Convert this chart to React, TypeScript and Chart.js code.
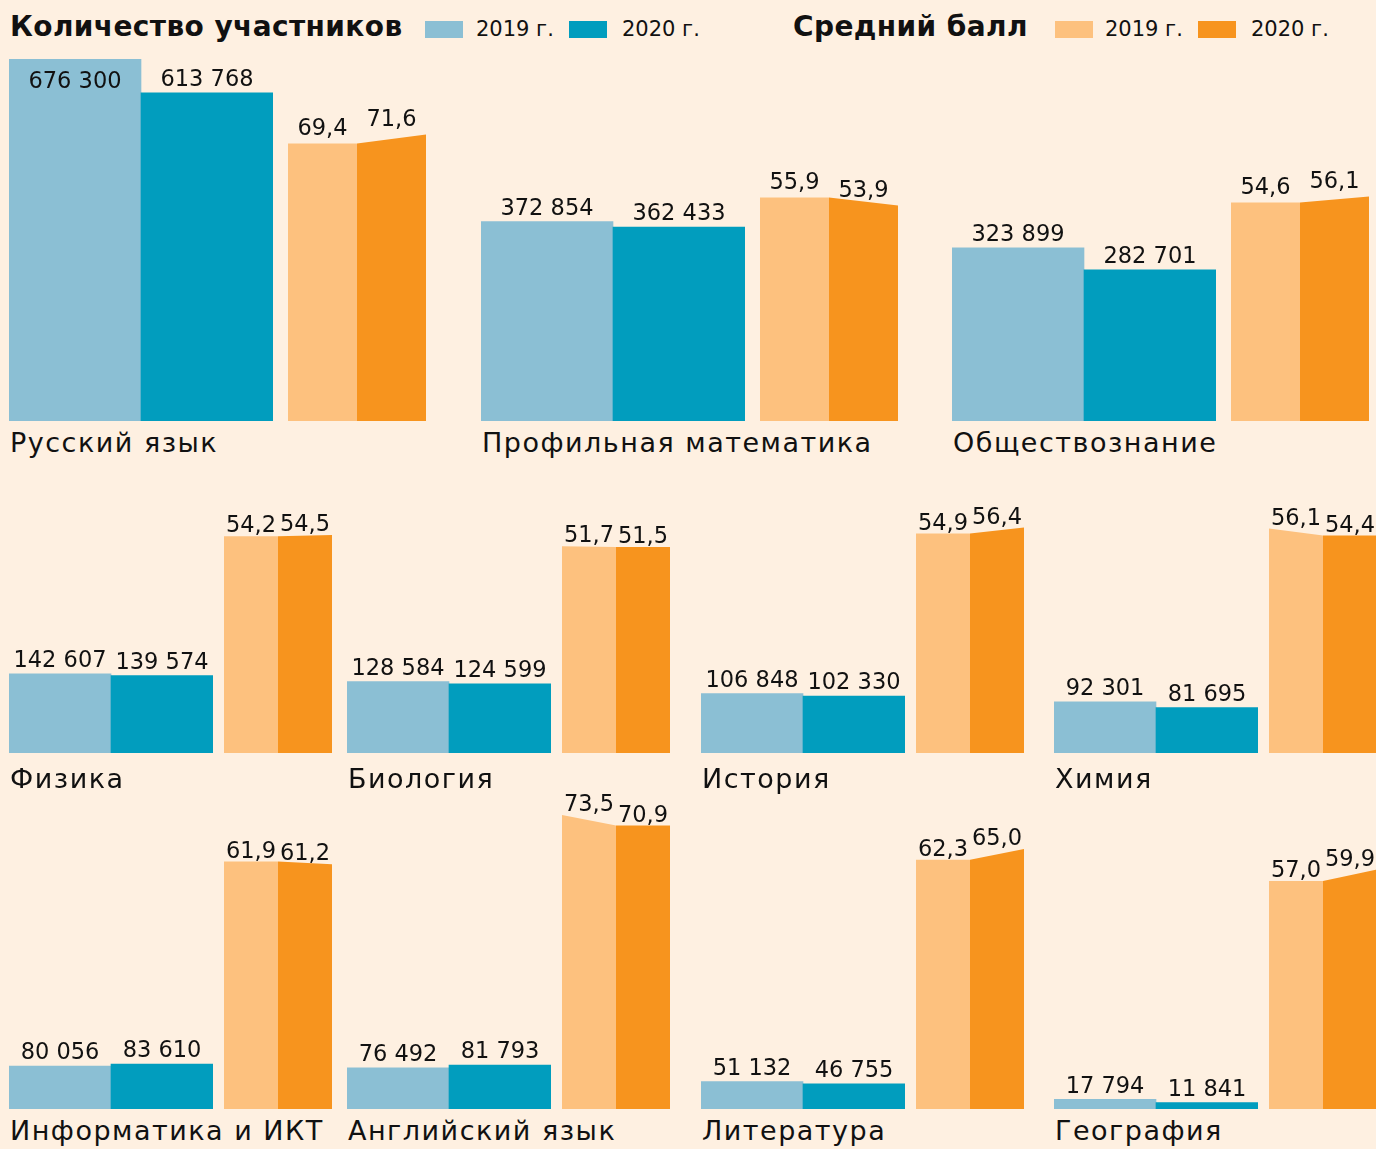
import React, { useEffect, useRef } from "react";
import { Chart, registerables } from "chart.js";

Chart.register(...registerables);

// ---------- data ----------
const subjects = [
  "Русский язык",
  "Профильная математика",
  "Обществознание",
  "Физика",
  "Биология",
  "История",
  "Химия",
  "Информатика и ИКТ",
  "Английский язык",
  "Литература",
  "География",
];
const participants2019 = [676300, 372854, 323899, 142607, 128584, 106848, 92301, 80056, 76492, 51132, 17794];
const participants2020 = [613768, 362433, 282701, 139574, 124599, 102330, 81695, 83610, 81793, 46755, 11841];
const score2019 = [69.4, 55.9, 54.6, 54.2, 51.7, 54.9, 56.1, 61.9, 73.5, 62.3, 57.0];
const score2020 = [71.6, 53.9, 56.1, 54.5, 51.5, 56.4, 54.4, 61.2, 70.9, 65.0, 59.9];
// whether the transition slope is drawn on the 2019 half (otherwise on the 2020 half)
const slopeOn2019 = [false, false, false, false, true, false, true, false, true, false, false];
const yearLabels = ["2019 г.", "2020 г."];

// ---------- styles ----------
const BG = "#FEF0E1";
const LIGHT_BLUE = "#8BBFD4";
const DARK_BLUE = "#019DBE";
const LIGHT_ORANGE = "#FDC17E";
const DARK_ORANGE = "#F7941E";
const TEXT = "#111111";
const FONT_FAMILY = "'DejaVu Sans', sans-serif";
const LABEL_SIZE = 22.5;
const POINTS_PER_PX = 0.25;

type Row = {
  xs: number[];
  blueW: number;
  orOff: number;
  orW: number;
  top: number;
  base: number;
  labelY: number;
  unitsPerPx: number;
  orangeGap: number;
};
const rows: Row[] = [
  { xs: [9, 481, 952], blueW: 264, orOff: 279, orW: 138, top: 50, base: 421, labelY: 443, unitsPerPx: 1870, orangeGap: 17 },
  { xs: [9, 347, 701, 1054], blueW: 204, orOff: 215, orW: 108, top: 470, base: 753, labelY: 779, unitsPerPx: 1800, orangeGap: 12 },
  { xs: [9, 347, 701, 1054], blueW: 204, orOff: 215, orW: 108, top: 785, base: 1109, labelY: 1131, unitsPerPx: 1860, orangeGap: 12 },
];

const fmtInt = (v: number) => String(v).replace(/\B(?=(\d{3})+(?!\d))/g, " ");
const fmtDec = (v: number) => v.toFixed(1).replace(".", ",");

const CAP_HALF = LABEL_SIZE * 0.36;

const valueLabels = {
  id: "valueLabels",
  afterDatasetsDraw(chart: any, _args: any, opts: any) {
    const ctx = chart.ctx;
    ctx.save();
    ctx.font = `${LABEL_SIZE}px ${FONT_FAMILY}`;
    ctx.fillStyle = TEXT;
    ctx.textAlign = "center";
    ctx.textBaseline = "alphabetic";
    if (opts.kind === "blue") {
      const meta = chart.getDatasetMeta(0);
      chart.data.datasets[0].data.forEach((v: number, i: number) => {
        const el = meta.data[i];
        let cy = el.y - 15;
        if (cy < 14) cy = el.y + 21;
        ctx.fillText(fmtInt(v), el.x, cy + CAP_HALF);
      });
    } else {
      const xs = chart.scales.x;
      const ys = chart.scales.y;
      (opts.values as number[]).forEach((v, i) => {
        const cy = ys.getPixelForValue(v) - opts.gap;
        ctx.fillText(fmtDec(v), xs.getPixelForValue(i + 0.5), cy + CAP_HALF);
      });
    }
    ctx.restore();
  },
};

function Panel(props: {
  kind: "blue" | "orange";
  idx: number;
  left: number;
  top: number;
  width: number;
  height: number;
  unitsPerPx: number;
  gap: number;
}) {
  const ref = useRef<HTMLCanvasElement | null>(null);
  const { kind, idx, left, top, width, height, unitsPerPx, gap } = props;
  useEffect(() => {
    if (!ref.current) return;
    let chart: Chart;
    if (kind === "blue") {
      chart = new Chart(ref.current, {
        type: "bar",
        data: {
          labels: yearLabels,
          datasets: [
            {
              data: [participants2019[idx], participants2020[idx]],
              backgroundColor: [LIGHT_BLUE, DARK_BLUE],
              borderWidth: 0,
              categoryPercentage: 1,
              barPercentage: 1,
            },
          ],
        },
        options: {
          responsive: false,
          animation: false,
          layout: { padding: 0 },
          plugins: { legend: { display: false }, tooltip: { enabled: false }, valueLabels: { kind: "blue" } } as any,
          scales: {
            x: { display: false },
            y: { display: false, min: 0, max: height * unitsPerPx },
          },
        },
        plugins: [valueLabels as any],
      });
    } else {
      const a = score2019[idx];
      const c = score2020[idx];
      const mid = slopeOn2019[idx] ? c : a;
      chart = new Chart(ref.current, {
        type: "line",
        data: {
          datasets: [
            {
              data: [
                { x: 0, y: a },
                { x: 1, y: mid },
              ],
              fill: "origin",
              backgroundColor: LIGHT_ORANGE,
              borderColor: "rgba(0,0,0,0)",
              borderWidth: 0,
              pointRadius: 0,
              tension: 0,
            },
            {
              data: [
                { x: 1, y: mid },
                { x: 2, y: c },
              ],
              fill: "origin",
              backgroundColor: DARK_ORANGE,
              borderColor: "rgba(0,0,0,0)",
              borderWidth: 0,
              pointRadius: 0,
              tension: 0,
            },
          ],
        },
        options: {
          responsive: false,
          animation: false,
          layout: { padding: 0 },
          plugins: {
            legend: { display: false },
            tooltip: { enabled: false },
            valueLabels: { kind: "orange", values: [a, c], gap },
          } as any,
          scales: {
            x: { type: "linear", display: false, min: 0, max: 2 },
            y: { display: false, min: 0, max: height * POINTS_PER_PX },
          },
        },
        plugins: [valueLabels as any],
      });
    }
    return () => chart.destroy();
  }, [kind, idx, width, height, unitsPerPx, gap]);
  return (
    <canvas
      ref={ref}
      width={width}
      height={height}
      style={{ position: "absolute", left, top, width, height }}
    />
  );
}

const titleStyle: React.CSSProperties = {
  position: "absolute",
  top: 8,
  font: `bold 28px ${FONT_FAMILY}`,
  color: TEXT,
  lineHeight: "38px",
  whiteSpace: "nowrap",
  letterSpacing: "0.4px",
};
const legendText: React.CSSProperties = {
  position: "absolute",
  top: 13,
  font: `21px ${FONT_FAMILY}`,
  color: TEXT,
  lineHeight: "32px",
  whiteSpace: "nowrap",
};
const box = (left: number, color: string): React.CSSProperties => ({
  position: "absolute",
  left,
  top: 21,
  width: 38,
  height: 17,
  background: color,
});

export default function App() {
  const panels: React.ReactNode[] = [];
  const names: React.ReactNode[] = [];
  let idx = 0;
  rows.forEach((r) => {
    r.xs.forEach((x) => {
      const h = r.base - r.top;
      panels.push(
        <Panel key={"b" + idx} kind="blue" idx={idx} left={x} top={r.top} width={r.blueW} height={h} unitsPerPx={r.unitsPerPx} gap={15} />
      );
      panels.push(
        <Panel key={"o" + idx} kind="orange" idx={idx} left={x + r.orOff} top={r.top} width={r.orW} height={h} unitsPerPx={r.unitsPerPx} gap={r.orangeGap} />
      );
      names.push(
        <div
          key={"n" + idx}
          style={{
            position: "absolute",
            left: x + 1,
            top: r.labelY - 18,
            font: `27px ${FONT_FAMILY}`,
            lineHeight: "36px",
            color: TEXT,
            whiteSpace: "nowrap",
            letterSpacing: "1.5px",
          }}
        >
          {subjects[idx]}
        </div>
      );
      idx++;
    });
  });

  return (
    <div
      style={{
        position: "absolute",
        left: 0,
        top: 0,
        width: 1376,
        height: 1149,
        background: BG,
        overflow: "hidden",
      }}
    >
      <div style={{ ...titleStyle, left: 10 }}>Количество участников</div>
      <div style={box(425, LIGHT_BLUE)} />
      <div style={{ ...legendText, left: 476 }}>{yearLabels[0]}</div>
      <div style={box(569, DARK_BLUE)} />
      <div style={{ ...legendText, left: 622 }}>{yearLabels[1]}</div>

      <div style={{ ...titleStyle, left: 793 }}>Средний балл</div>
      <div style={box(1055, LIGHT_ORANGE)} />
      <div style={{ ...legendText, left: 1105 }}>{yearLabels[0]}</div>
      <div style={box(1198, DARK_ORANGE)} />
      <div style={{ ...legendText, left: 1251 }}>{yearLabels[1]}</div>

      {panels}
      {names}
    </div>
  );
}
